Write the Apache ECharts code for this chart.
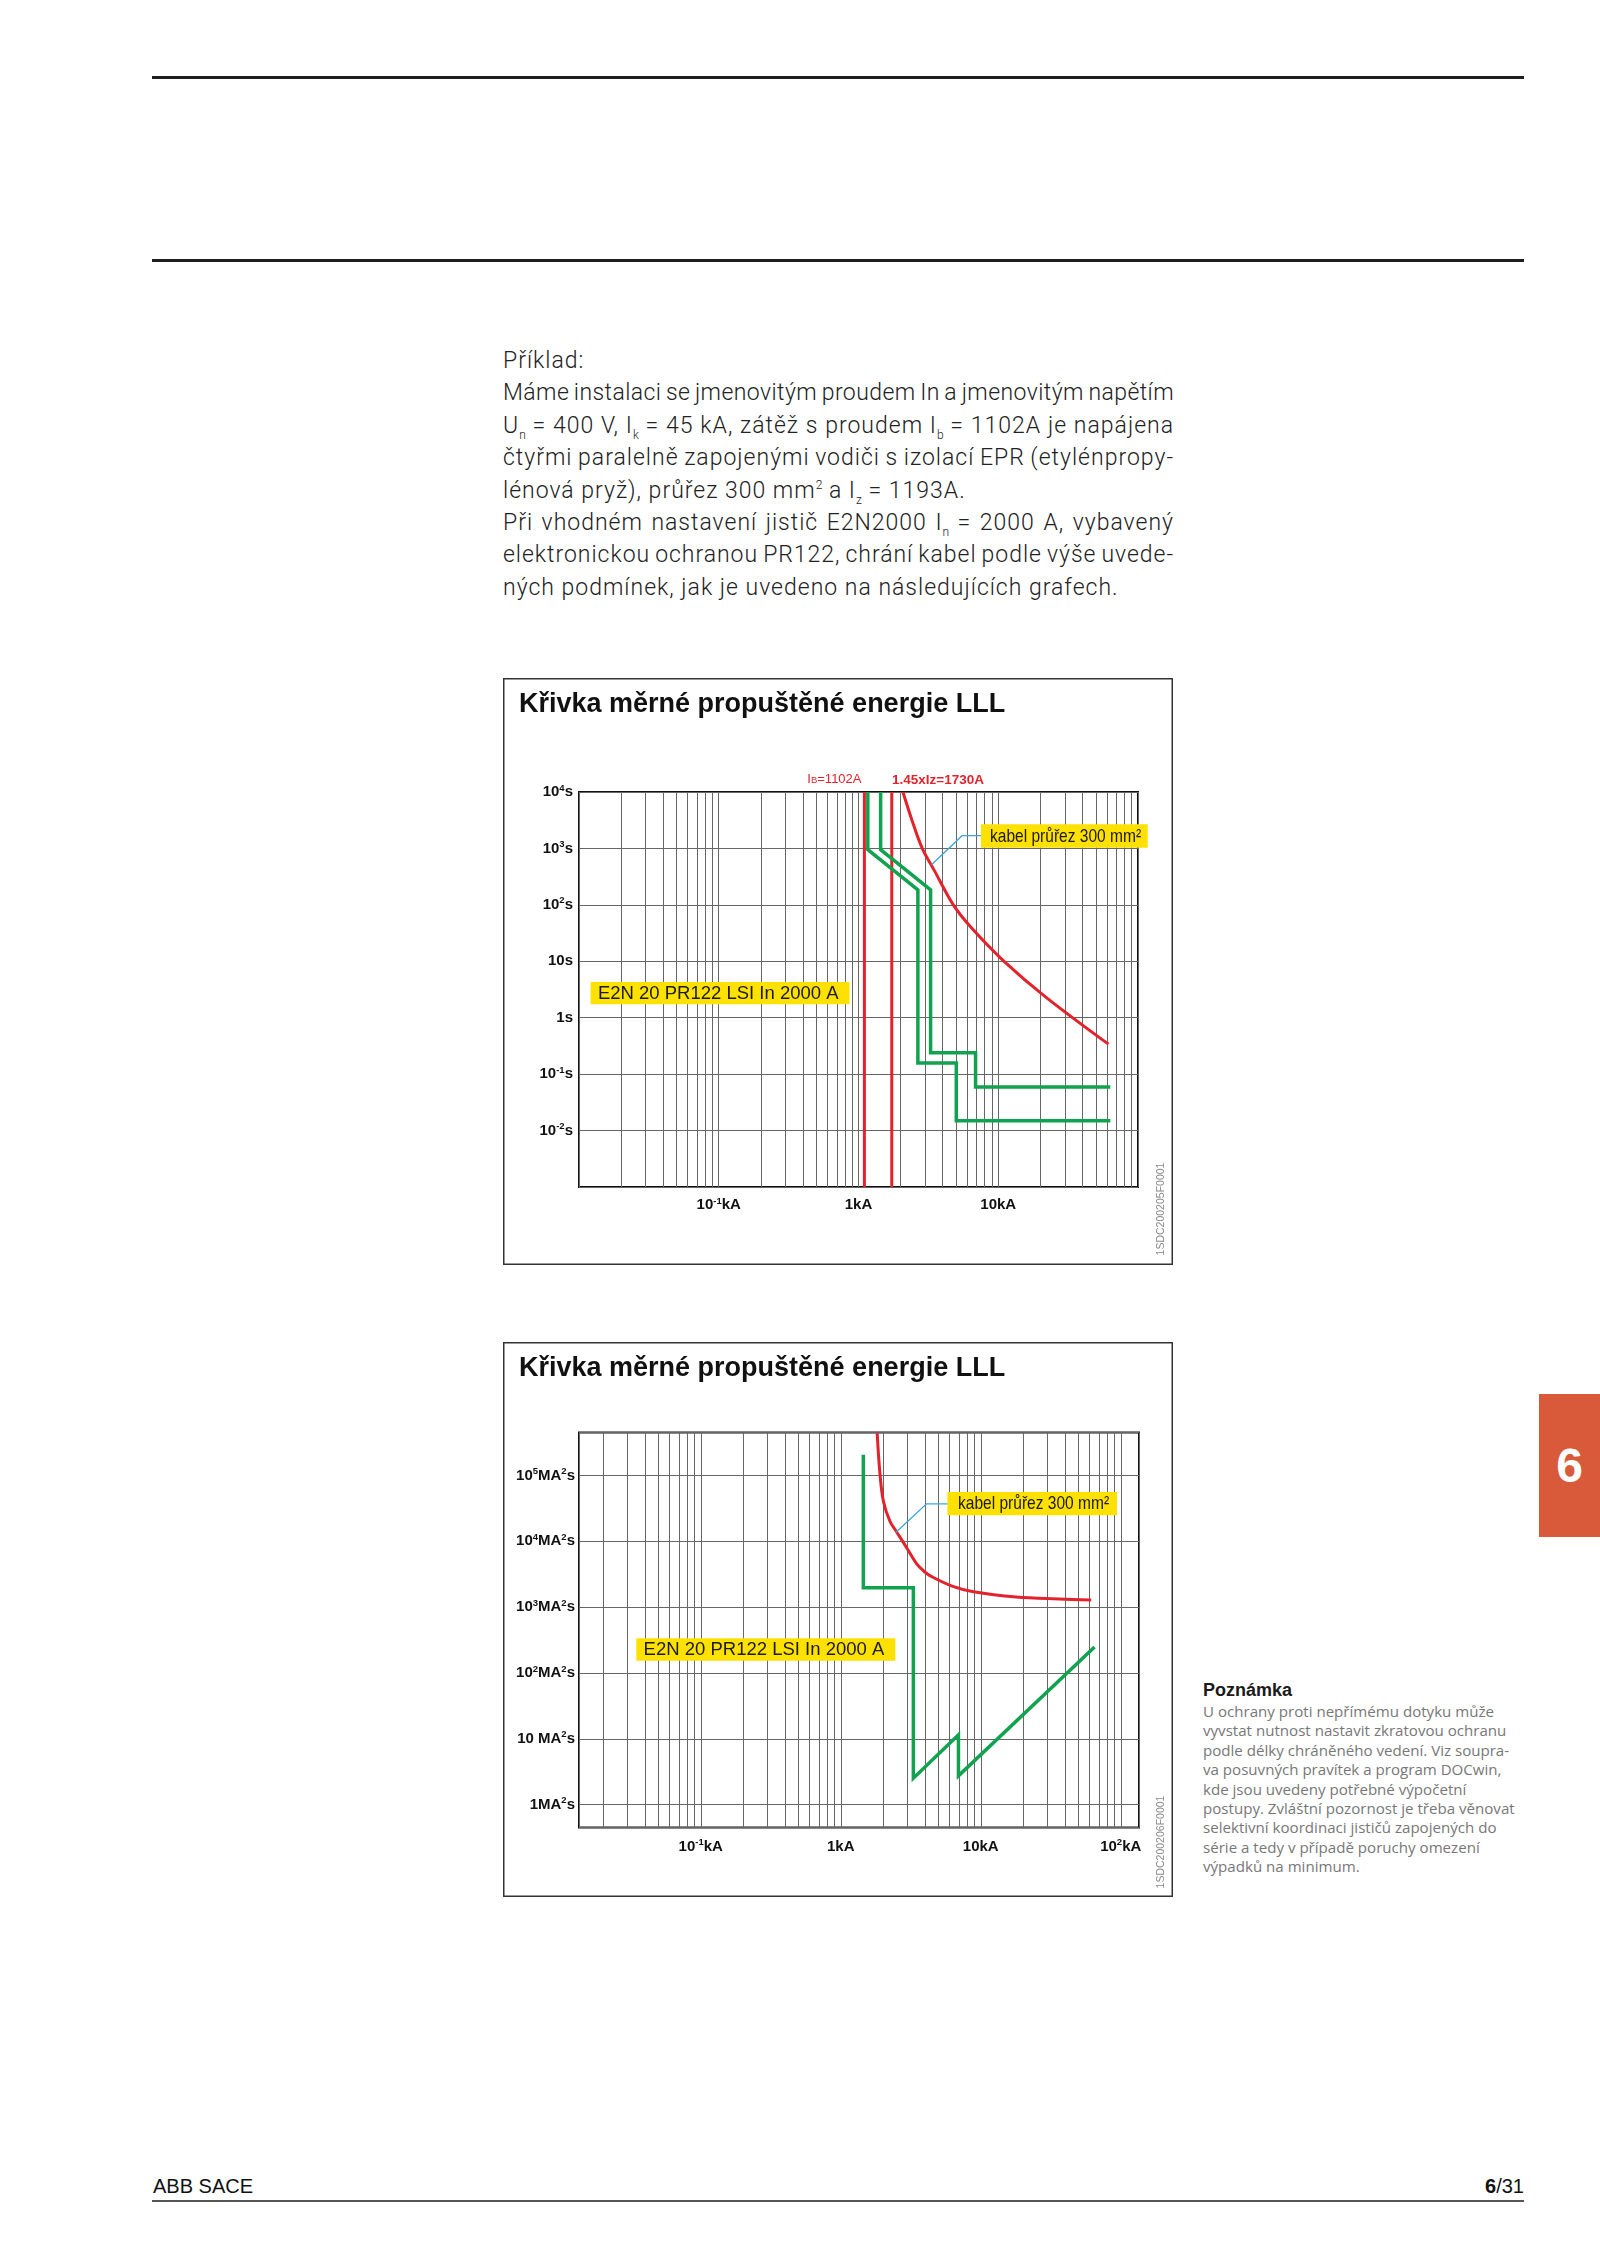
<!DOCTYPE html>
<html><head><meta charset="utf-8">
<script src="https://cdn.jsdelivr.net/npm/echarts@6/dist/echarts.min.js"></script>
<style>
html,body{margin:0;padding:0;background:#fff;}
#page{position:relative;width:1600px;height:2263px;overflow:hidden;font-family:'Liberation Sans',Arial,sans-serif;background:#fff;}
.rule{position:absolute;left:152px;width:1372px;background:#1e1e1e;}
#para{position:absolute;left:503px;top:345px;width:671px;font-family:Roboto,'Liberation Sans',sans-serif;font-weight:300;font-size:23px;letter-spacing:1px;line-height:32.4px;color:#222;}
#para div{white-space:nowrap;height:32.4px;}
#para .j span.w{display:inline-block;white-space:nowrap;}
#para sub{font-size:12px;line-height:0;vertical-align:-6px;letter-spacing:0;}
#para sup{font-size:12px;line-height:0;vertical-align:9px;letter-spacing:0;}
#note{position:absolute;left:1203px;top:1678px;width:360px;}
#note .h{font-family:'Liberation Sans',Arial,sans-serif;font-weight:bold;font-size:18px;line-height:24px;color:#1a1a1a;}
#note .b{font-family:'Open Sans','Liberation Sans',sans-serif;font-size:15.1px;line-height:19.4px;color:#777;white-space:nowrap;}
#tab{position:absolute;left:1539px;top:1394px;width:61px;height:143px;background:#D95A3B;color:#fff;font-family:'Liberation Sans',Arial,sans-serif;font-weight:bold;font-size:48px;line-height:143px;text-align:center;}
#foot1{position:absolute;left:153px;top:2174px;font-size:20px;line-height:24px;color:#111;}
#foot2{position:absolute;right:76px;top:2174px;font-size:20px;line-height:24px;color:#111;}
#c1{position:absolute;left:503px;top:678px;width:670px;height:587px;}
#c2{position:absolute;left:503px;top:1342px;width:670px;height:555px;}
</style></head>
<body><div id="page">
<div class="rule" style="top:76px;height:3px"></div>
<div class="rule" style="top:259px;height:3px"></div>
<div id="para">
<div>Příklad:</div>
<div class="j"><span class="w">Máme instalaci se jmenovitým proudem In a jmenovitým napětím</span></div>
<div class="j"><span class="w">U<sub>n</sub> = 400 V, I<sub>k</sub> = 45 kA, zátěž s proudem I<sub>b</sub> = 1102A je napájena</span></div>
<div class="j"><span class="w">čtyřmi paralelně zapojenými vodiči s izolací EPR (etylénpropy-</span></div>
<div>lénová pryž), průřez 300 mm<sup>2</sup> a I<sub>z</sub> = 1193A.</div>
<div class="j"><span class="w">Při vhodném nastavení jistič E2N2000 I<sub>n</sub> = 2000 A, vybavený</span></div>
<div class="j"><span class="w">elektronickou ochranou PR122, chrání kabel podle výše uvede-</span></div>
<div>ných podmínek, jak je uvedeno na následujících grafech.</div>
</div>
<div id="c1"></div>
<div id="c2"></div>
<div id="tab">6</div>
<div id="note">
<div class="h">Poznámka</div>
<div class="b">U ochrany proti nepřímému dotyku může</div>
<div class="b">vyvstat nutnost nastavit zkratovou ochranu</div>
<div class="b">podle délky chráněného vedení. Viz soupra-</div>
<div class="b">va posuvných pravítek a program DOCwin,</div>
<div class="b">kde jsou uvedeny potřebné výpočetní</div>
<div class="b">postupy. Zvláštní pozornost je třeba věnovat</div>
<div class="b">selektivní koordinaci jističů zapojených do</div>
<div class="b">série a tedy v případě poruchy omezení</div>
<div class="b">výpadků na minimum.</div>
</div>
<div id="foot1">ABB SACE</div>
<div id="foot2"><b>6</b>/31</div>
<div class="rule" style="top:2200px;height:2px;background:#555"></div>
</div>
<script>
// ---------- Chart 1: time-current curves (x: kA, y: s) ----------
const c1XRange = [0.01, 100];
const c1YRange = [0.001, 10000];
const c1XTickValues = [0.1, 1, 10];
const c1XTickLabels = ['{n|10}{s|-1}{n|kA}', '{n|1kA}', '{n|10kA}'];
const c1YTickValues = [10000, 1000, 100, 10, 1, 0.1, 0.01];
const c1YTickLabels = ['{n|10}{s|4}{n|s}', '{n|10}{s|3}{n|s}', '{n|10}{s|2}{n|s}', '{n|10s}', '{n|1s}', '{n|10}{s|-1}{n|s}', '{n|10}{s|-2}{n|s}'];
const c1IbCurrent = 1.102;   // kA
const c1IzLimit = 1.73;      // kA (1.45 x Iz)
const c1CableCurve = [[2.08, 10000], [2.4, 3300], [2.86, 1000], [3.5, 400], [4.77, 100], [6.5, 38], [11.0, 10], [22, 2.3], [61.5, 0.34]];
const c1BreakerLow = [[1.166, 10000], [1.166, 950], [2.66, 184], [2.66, 0.158], [5.01, 0.158], [5.01, 0.015], [63.4, 0.015]];
const c1BreakerHigh = [[1.44, 10000], [1.44, 950], [3.28, 184], [3.28, 0.24], [6.88, 0.24], [6.88, 0.059], [63.4, 0.059]];
const c1Leader = [[7.59, 1680], [5.51, 1680], [3.33, 513]];

// ---------- Chart 2: let-through energy (x: kA, y: MA²s) ----------
const c2XRange = [0.0135, 135];
const c2YRange = [0.45, 450000];
const c2XTickValues = [0.1, 1, 10, 100];
const c2XTickLabels = ['{n|10}{s|-1}{n|kA}', '{n|1kA}', '{n|10kA}', '{n|10}{s|2}{n|kA}'];
const c2YTickValues = [100000, 10000, 1000, 100, 10, 1];
const c2YTickLabels = ['{n|10}{s|5}{n|MA}{s|2}{n|s}', '{n|10}{s|4}{n|MA}{s|2}{n|s}', '{n|10}{s|3}{n|MA}{s|2}{n|s}', '{n|10}{s|2}{n|MA}{s|2}{n|s}', '{n|10 MA}{s|2}{n|s}', '{n|1MA}{s|2}{n|s}'];
const c2CableCurve = [[1.82, 440000], [1.91, 100000], [2.02, 40000], [2.25, 20000], [2.5, 14000], [2.77, 10000], [3.0, 7600], [3.5, 4500], [4.0, 3400], [4.39, 2960], [6.24, 2090], [8.87, 1715], [17.9, 1426], [36.3, 1330], [61.5, 1283]];
const c2Breaker = [[1.45, 207000], [1.45, 1970], [3.3, 1970], [3.3, 2.52], [6.93, 11.5], [6.93, 2.74], [65, 248]];
const c2Leader = [[5.83, 37100], [4.10, 37100], [2.46, 13460]];

// ---------- justify paragraph lines to the column width ----------
function justifyLines() {
  const W = 671, MINWS = -1.5;
  document.querySelectorAll('#para .j span.w').forEach(function (s) {
    s.style.wordSpacing = '0px';
    s.style.letterSpacing = '1px';
    const n = (s.textContent.match(/ /g) || []).length;
    const c = s.textContent.length;
    let w = s.getBoundingClientRect().width;
    let ws = (W - w) / n;
    if (ws < MINWS) {
      const ls = 1 - ((MINWS - ws) * n) / c;
      s.style.letterSpacing = ls + 'px';
      w = s.getBoundingClientRect().width;
      ws = (W - w) / n;
    }
    s.style.wordSpacing = ws + 'px';
  });
}
justifyLines();
if (document.fonts && document.fonts.ready) document.fonts.ready.then(justifyLines);

const FONT = "'Liberation Sans', Arial, sans-serif";
const RED = '#E3232B', GREEN = '#11A24F', GRID = '#666666', BLUE = '#3AA5DD', YELLOW = '#FFE100';

function tickFormatter(values, labels) {
  return function (v) {
    for (let i = 0; i < values.length; i++) {
      if (Math.abs(Math.log10(v) - Math.log10(values[i])) < 1e-6) return labels[i];
    }
    return '';
  };
}
function minorGrid(range) {
  const out = [];
  const k0 = Math.floor(Math.log10(range[0])), k1 = Math.ceil(Math.log10(range[1]));
  for (let k = k0; k <= k1; k++) {
    for (let m = 2; m <= 9; m++) {
      const v = m * Math.pow(10, k);
      if (v > range[0] * 1.0001 && v < range[1] * 0.9999) out.push({ xAxis: v });
    }
  }
  return out;
}
const richLbl = {
  n: { fontSize: 15, fontWeight: 'bold', fontFamily: FONT, color: '#111', lineHeight: 18 },
  s: { fontSize: 9.5, fontWeight: 'bold', fontFamily: FONT, color: '#111', verticalAlign: 'top', lineHeight: 9 }
};
function logAxis(range, vals, labs, margin) {
  return { type: 'log', logBase: 10, min: range[0], max: range[1],
    axisLine: { show: false }, axisTick: { show: false }, minorTick: { show: false },
    splitLine: { show: true, lineStyle: { color: GRID, width: 1 } },
    axisLabel: { interval: 0, showMinLabel: true, showMaxLabel: true, margin: margin, formatter: tickFormatter(vals, labs), rich: richLbl } };
}
function ln(name, data, color, width, z) {
  return { name: name, type: 'line', data: data, symbol: 'none', showSymbol: false, smooth: false,
    lineStyle: { color: color, width: width, join: 'miter' }, z: z || 3, silent: true, animation: false, clip: true };
}
function gridSeries(range) {
  return { name: 'minor', type: 'line', data: [], z: 1, silent: true, animation: false,
    markLine: { silent: true, animation: false, symbol: ['none', 'none'], label: { show: false },
      lineStyle: { color: GRID, width: 1, type: 'solid' }, emphasis: { disabled: true }, data: minorGrid(range) } };
}
function titleText(y) {
  return { type: 'text', x: 16, y: y, z: 50, style: { text: 'Křivka měrné propuštěné energie LLL', font: 'bold 27px ' + FONT, fill: '#111', verticalAlign: 'middle' } };
}
function box(x, y, w, h, text, tx, scaleX, fs) {
  return [
    { type: 'rect', shape: { x: x, y: y, width: w, height: h }, style: { fill: YELLOW }, z: 50 },
    { type: 'text', x: tx, y: y + h / 2 + 0.5, scaleX: scaleX, z: 51, style: { text: text, font: fs + 'px ' + FONT, fill: '#1a1a1a', verticalAlign: 'middle' } }
  ];
}
function codeText(x, y, t) {
  return { type: 'text', x: x, y: y, rotation: Math.PI / 2, z: 50, style: { text: t, font: '10.5px ' + FONT, fill: '#8a8a8a', align: 'center', verticalAlign: 'middle' } };
}
function frame(w, h) {
  return { type: 'rect', shape: { x: 0.75, y: 0.75, width: w - 1.5, height: h - 1.5 }, style: { fill: 'none', stroke: '#333', lineWidth: 1.5 }, z: 40 };
}

const ch1 = echarts.init(document.getElementById('c1'), null, { renderer: 'canvas' });
ch1.setOption({
  animation: false, backgroundColor: '#fff',
  grid: { left: 76, top: 114, width: 559, height: 395, show: true, borderColor: '#111', borderWidth: 2, backgroundColor: 'transparent' },
  xAxis: logAxis(c1XRange, c1XTickValues, c1XTickLabels, 9),
  yAxis: logAxis(c1YRange, c1YTickValues, c1YTickLabels, 6),
  series: [
    gridSeries(c1XRange),
    ln('Ib', [[c1IbCurrent, c1YRange[0]], [c1IbCurrent, c1YRange[1]]], RED, 3, 4),
    ln('1.45Iz', [[c1IzLimit, c1YRange[0]], [c1IzLimit, c1YRange[1]]], RED, 3, 4),
    ln('breakerLow', c1BreakerLow, GREEN, 3.5, 5),
    ln('breakerHigh', c1BreakerHigh, GREEN, 3.5, 5),
    Object.assign(ln('cable', c1CableCurve, RED, 3, 6), { smooth: 0.35 }),
    ln('leader', c1Leader, BLUE, 1.3, 7)
  ],
  graphic: [
    frame(670, 587),
    titleText(27),
    { type: 'text', x: 358.5, y: 101, z: 50, style: { text: '{a|I}{b|B}{a|=1102A}', fill: RED, align: 'right', verticalAlign: 'middle',
      rich: { a: { fontSize: 13, fontFamily: FONT, fill: RED }, b: { fontSize: 9.5, fontFamily: FONT, fill: RED, verticalAlign: 'bottom' } } } },
    { type: 'text', x: 389, y: 102.5, z: 50, style: { text: '1.45xIz=1730A', font: 'bold 13.5px ' + FONT, fill: RED, verticalAlign: 'middle' } }
  ].concat(box(478, 146.3, 166.7, 23.4, 'kabel průřez 300 mm²', 487, 0.84, 18.5))
   .concat(box(87.6, 304, 259, 22.3, 'E2N 20 PR122 LSI In 2000 A', 94.9, 1, 18.5))
   .concat([codeText(658, 531, '1SDC200205F0001')])
});

const ch2 = echarts.init(document.getElementById('c2'), null, { renderer: 'canvas' });
ch2.setOption({
  animation: false, backgroundColor: '#fff',
  grid: { left: 76, top: 90.5, width: 560, height: 395, show: true, borderColor: '#111', borderWidth: 2, backgroundColor: 'transparent' },
  xAxis: logAxis(c2XRange, c2XTickValues, c2XTickLabels, 10),
  yAxis: logAxis(c2YRange, c2YTickValues, c2YTickLabels, 4),
  series: [
    gridSeries(c2XRange),
    ln('breaker', c2Breaker, GREEN, 3.5, 5),
    Object.assign(ln('cable', c2CableCurve, RED, 3, 6), { smooth: 0.35 }),
    ln('leader', c2Leader, BLUE, 1.3, 7)
  ],
  graphic: [
    frame(670, 555),
    titleText(27)
  ].concat(box(444.4, 150, 169.6, 23.3, 'kabel průřez 300 mm²', 455, 0.84, 18.5))
   .concat(box(133.3, 296.3, 259, 22.4, 'E2N 20 PR122 LSI In 2000 A', 140.6, 1, 18.5))
   .concat([codeText(658, 500, '1SDC200206F0001')])
});
</script>
</body></html>
